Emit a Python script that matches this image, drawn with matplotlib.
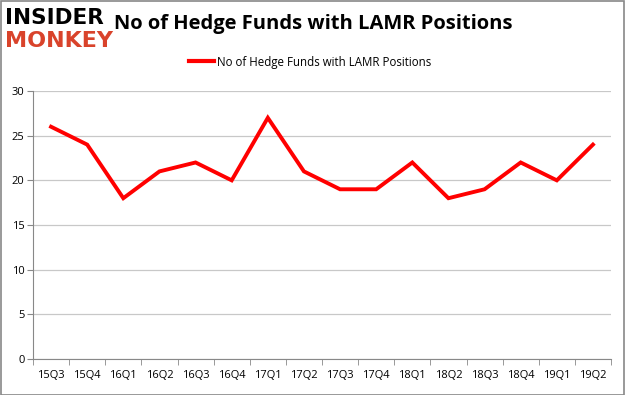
import matplotlib
matplotlib.use('Agg')
import matplotlib.pyplot as plt
from matplotlib.lines import Line2D

quarters = ['15Q3', '15Q4', '16Q1', '16Q2', '16Q3', '16Q4', '17Q1', '17Q2',
            '17Q3', '17Q4', '18Q1', '18Q2', '18Q3', '18Q4', '19Q1', '19Q2']
funds = [26, 24, 18, 21, 22, 20, 27, 21, 19, 19, 22, 18, 19, 22, 20, 24]
yticks = [0, 5, 10, 15, 20, 25, 30]

plt.rcParams['font.family'] = ['Open Sans', 'DejaVu Sans']

fig = plt.figure(figsize=(6.25, 3.95), dpi=100)
ax = fig.add_axes([0.0528, 0.0911, 0.9248, 0.6785])

x = list(range(len(quarters)))
ax.plot(x, funds, color='#ff0000', lw=2.8, solid_joinstyle='miter')

ax.set_xlim(-0.5, len(quarters) - 0.5)
ax.set_ylim(0, 30)
ax.set_yticks(yticks)
ax.set_yticklabels([str(v) for v in yticks], fontsize=8)
ax.set_xticks(x)
ax.set_xticklabels(quarters, fontsize=8)
ax.set_xticks([i - 0.5 for i in range(len(quarters) + 1)], minor=True)
ax.tick_params(axis='x', which='major', length=0, pad=8)
ax.tick_params(axis='x', which='minor', length=4, color='#888888')
ax.tick_params(axis='y', length=4, color='#888888', pad=2)
ax.grid(axis='y', color='#c8c8c8', lw=0.9)
ax.set_axisbelow(True)
for s in ['top', 'right']:
    ax.spines[s].set_visible(False)
for s in ['left', 'bottom']:
    ax.spines[s].set_color('#888888')

# legend
handle = Line2D([], [], color='#ff0000', lw=3)
fig.legend([handle], ['No of Hedge Funds with LAMR Positions'],
           loc='center', bbox_to_anchor=(0.496, 0.843), frameon=False,
           fontsize=8.3, handlelength=2.2, handletextpad=0.2)

# title + logo
fig.text(0.183, 0.94, 'No of Hedge Funds with LAMR Positions', fontsize=14.5,
         fontweight='bold', va='center', ha='left')
fig.text(0.008, 0.955, 'INSIDER', fontsize=15.5, fontweight='heavy',
         color='black', va='center', ha='left', family='DejaVu Sans')
fig.text(0.008, 0.895, 'MONKEY', fontsize=16, fontweight='heavy',
         color='#d9432b', va='center', ha='left', family='DejaVu Sans')

# outer border
fig.patches.append(plt.Rectangle((0.001, 0.001), 0.998, 0.997, transform=fig.transFigure,
                                 fill=False, edgecolor='#888888', lw=1.2))

fig.savefig('out.png', dpi=100)
